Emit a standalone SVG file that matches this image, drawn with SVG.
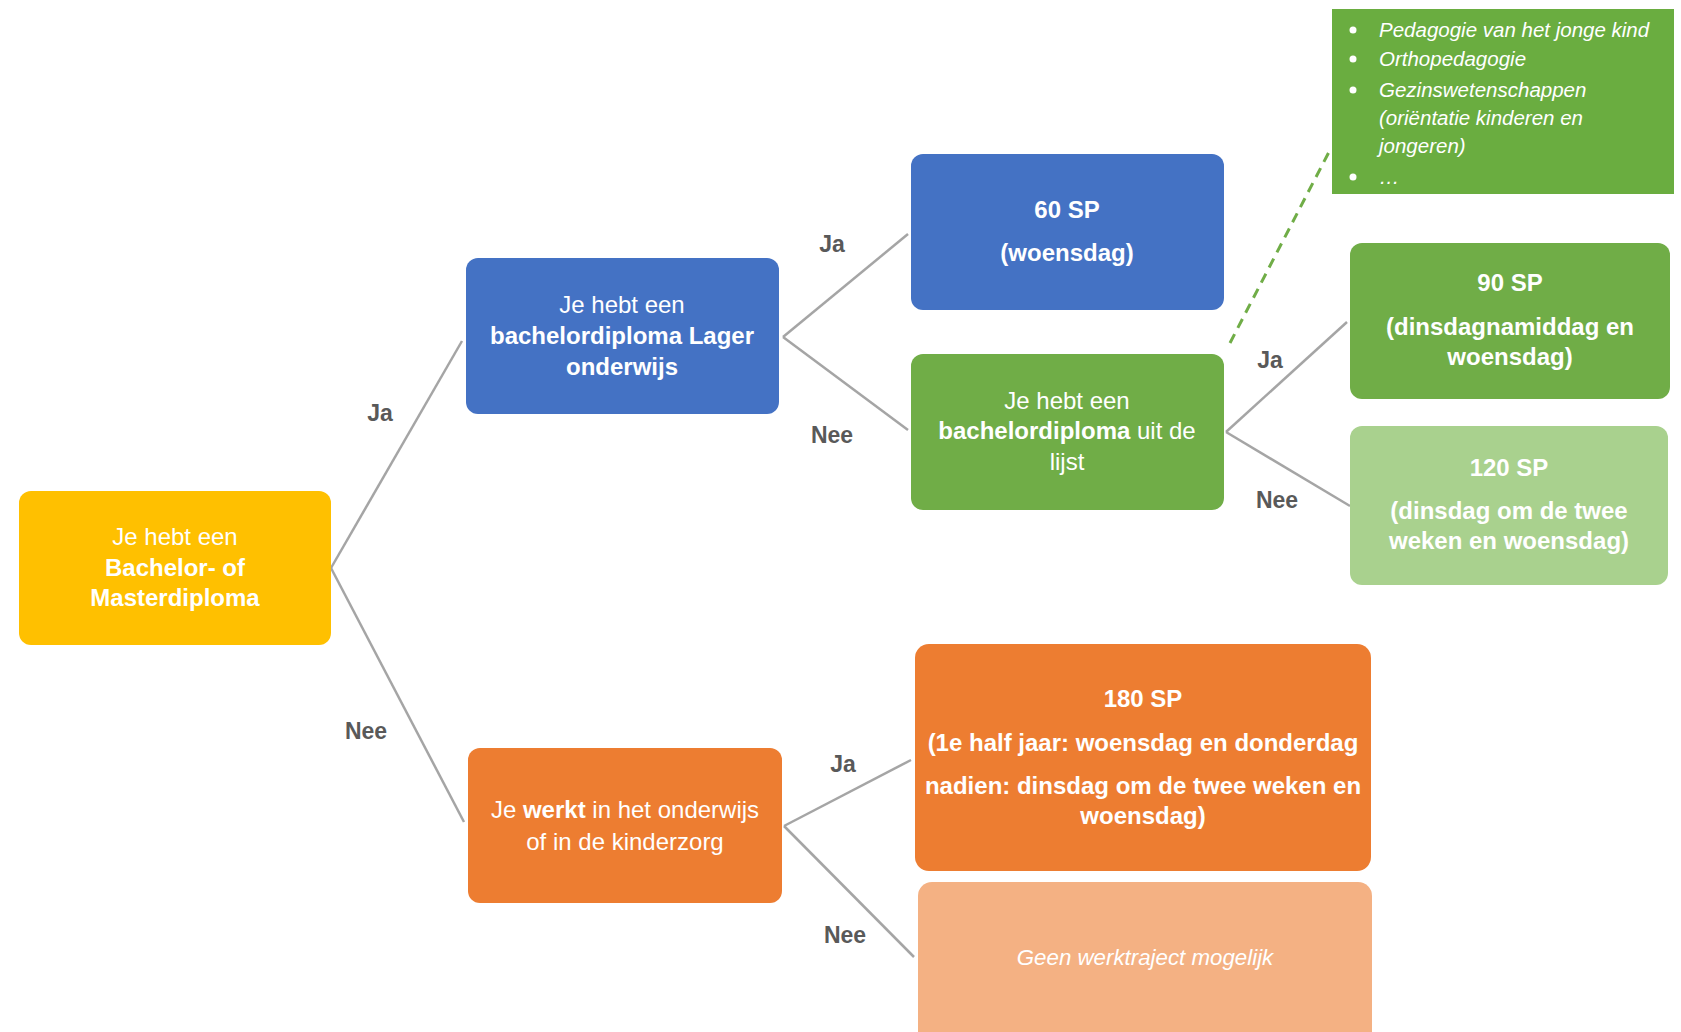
<svg xmlns="http://www.w3.org/2000/svg" width="1681" height="1032" viewBox="0 0 1681 1032">
<style>
.n{font-family:"Liberation Sans",Arial,sans-serif;font-size:24px;fill:#fff;text-anchor:middle}
.b{font-weight:bold}
.it{font-style:italic;font-size:22.3px}
.lbl{font-family:"Liberation Sans",Arial,sans-serif;font-size:23px;font-weight:bold;fill:#595959;text-anchor:middle}
.li{font-family:"Liberation Sans",Arial,sans-serif;font-size:20.5px;font-style:italic;fill:#fff}
.c{stroke:#a5a5a5;stroke-width:2.5;fill:none}
</style>
<rect width="1681" height="1032" fill="#fff"/>
<g id="connectors">
<line class="c" x1="331" y1="568" x2="462" y2="341"/>
<line class="c" x1="331" y1="568" x2="464" y2="822"/>
<line class="c" x1="783" y1="337" x2="908" y2="234"/>
<line class="c" x1="783" y1="337" x2="908" y2="430"/>
<line class="c" x1="784" y1="826" x2="911" y2="760"/>
<line class="c" x1="784" y1="826" x2="914" y2="957"/>
<line class="c" x1="1226" y1="432" x2="1347" y2="322"/>
<line class="c" x1="1226" y1="432" x2="1350" y2="506"/>
<line x1="1230" y1="343" x2="1330" y2="150" stroke="#70ad47" stroke-width="3" stroke-dasharray="10,7"/>
<text class="lbl" x="380" y="421">Ja</text>
<text class="lbl" x="366" y="739">Nee</text>
<text class="lbl" x="832" y="252">Ja</text>
<text class="lbl" x="832" y="443">Nee</text>
<text class="lbl" x="1270" y="368">Ja</text>
<text class="lbl" x="1277" y="508">Nee</text>
<text class="lbl" x="843" y="772">Ja</text>
<text class="lbl" x="845" y="943">Nee</text>
</g>
<g id="n-root">
<rect x="19" y="491" width="312" height="154" rx="12" fill="#ffc000"/>
<text class="n" x="175" y="545">Je hebt een</text>
<text class="n b" x="175" y="576">Bachelor- of</text>
<text class="n b" x="175" y="606">Masterdiploma</text>
</g>
<g id="n-lager">
<rect x="466" y="258" width="313" height="156" rx="12" fill="#4472c4"/>
<text class="n" x="622" y="313">Je hebt een</text>
<text class="n b" x="622" y="344">bachelordiploma Lager</text>
<text class="n b" x="622" y="375">onderwijs</text>
</g>
<g id="n-werkt">
<rect x="468" y="748" width="314" height="155" rx="12" fill="#ed7d31"/>
<text class="n" x="625" y="818">Je <tspan class="b">werkt</tspan> in het onderwijs</text>
<text class="n" x="625" y="850">of in de kinderzorg</text>
</g>
<g id="n-60sp">
<rect x="911" y="154" width="313" height="156" rx="12" fill="#4472c4"/>
<text class="n b" x="1067" y="218">60 SP</text>
<text class="n b" x="1067" y="261">(woensdag)</text>
</g>
<g id="n-lijst">
<rect x="911" y="354" width="313" height="156" rx="12" fill="#70ad47"/>
<text class="n" x="1067" y="409">Je hebt een</text>
<text class="n" x="1067" y="439"><tspan class="b">bachelordiploma</tspan> uit de</text>
<text class="n" x="1067" y="470">lijst</text>
</g>
<g id="n-lijstinhoud">
<rect x="1332" y="9" width="342" height="185" fill="#6aad40"/>
<circle cx="1353" cy="30" r="3.5" fill="#fff"/>
<circle cx="1353" cy="59" r="3.5" fill="#fff"/>
<circle cx="1353" cy="90" r="3.5" fill="#fff"/>
<circle cx="1353" cy="177" r="3.5" fill="#fff"/>
<text class="li" x="1379" y="37">Pedagogie van het jonge kind</text>
<text class="li" x="1379" y="66">Orthopedagogie</text>
<text class="li" x="1379" y="97">Gezinswetenschappen</text>
<text class="li" x="1379" y="125">(oriëntatie kinderen en</text>
<text class="li" x="1379" y="153">jongeren)</text>
<text class="li" x="1379" y="184">…</text>
</g>
<g id="n-90sp">
<rect x="1350" y="243" width="320" height="156" rx="12" fill="#70ad47"/>
<text class="n b" x="1510" y="291">90 SP</text>
<text class="n b" x="1510" y="335">(dinsdagnamiddag en</text>
<text class="n b" x="1510" y="365">woensdag)</text>
</g>
<g id="n-120sp">
<rect x="1350" y="426" width="318" height="159" rx="12" fill="#a9d18e"/>
<text class="n b" x="1509" y="476">120 SP</text>
<text class="n b" x="1509" y="519">(dinsdag om de twee</text>
<text class="n b" x="1509" y="549">weken en woensdag)</text>
</g>
<g id="n-180sp">
<rect x="915" y="644" width="456" height="227" rx="14" fill="#ed7d31"/>
<text class="n b" x="1143" y="707">180 SP</text>
<text class="n b" x="1143" y="751">(1e half jaar: woensdag en donderdag</text>
<text class="n b" x="1143" y="794">nadien: dinsdag om de twee weken en</text>
<text class="n b" x="1143" y="824">woensdag)</text>
</g>
<g id="n-geen">
<rect x="918" y="882" width="454" height="170" rx="14" fill="#f4b183"/>
<text class="n it" x="1145" y="965">Geen werktraject mogelijk</text>
</g>
</svg>
